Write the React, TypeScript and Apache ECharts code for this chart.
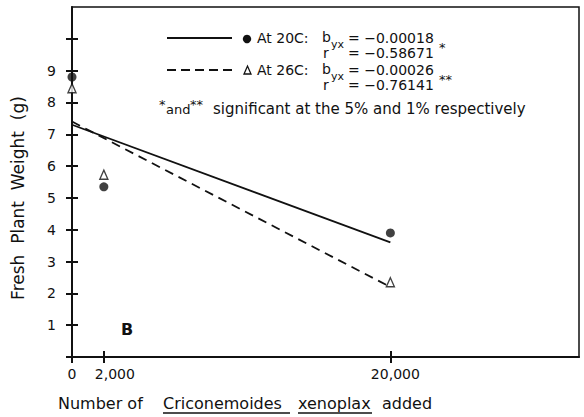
import React, { useEffect, useRef } from "react";
import * as echarts from "echarts";

// ---- data ----
const xValues = [0, 2000, 20000];
const weight20C = [8.8, 5.35, 3.9];
const weight26C = [8.45, 5.73, 2.35];
const fitX = [0, 20000];
const fit20C = [7.3, 3.6];
const fit26C = [7.4, 2.2];
const yTickValues = [0, 1, 2, 3, 4, 5, 6, 7, 8, 9, 10];
const yLabelValues = [1, 2, 3, 4, 5, 6, 7, 8, 9];
const xTickValues = [0, 2000, 20000];
const xTickLabels = ["0", "2,000", "20,000"];

const INK = "#111111";
const FONT = "DejaVu Sans";

export default function App() {
  const ref = useRef<HTMLDivElement>(null);
  useEffect(() => {
    document.body.style.margin = "0";
    if (!ref.current) return;
    const chart = echarts.init(ref.current, undefined, { renderer: "svg" });
    const txt = (text: string, x: number, y: number, size = 14, extra: any = {}) => ({
      type: "text",
      x,
      y,
      style: {
        text,
        fill: INK,
        fontFamily: FONT,
        fontSize: size,
        align: "left",
        verticalAlign: "middle",
        ...extra,
      },
    });
    const xLabelRich = {
      a: { padding: [0, 0, 0, 22], fontFamily: FONT, fontSize: 14, color: INK },
      b: { padding: [0, 0, 0, 10], fontFamily: FONT, fontSize: 14, color: INK },
      z: { fontFamily: FONT, fontSize: 14, color: INK },
    };
    const richKeys = ["z", "a", "b"];
    const tickStyle = { color: INK, width: 2 };
    const option: any = {
      animation: false,
      backgroundColor: "#ffffff",
      grid: {
        left: 72,
        right: 5,
        top: 7,
        bottom: 60,
        show: true,
        borderColor: INK,
        borderWidth: 1.5,
        backgroundColor: "transparent",
      },
      xAxis: [
        {
          type: "value",
          min: 0,
          max: 31850,
          position: "bottom",
          axisLine: { show: true, onZero: false, lineStyle: { color: INK, width: 2 } },
          axisTick: { show: true, customValues: xTickValues, length: 6, lineStyle: tickStyle },
          axisLabel: {
            customValues: xTickValues,
            margin: 10,
            formatter: (v: number) => {
              const i = xTickValues.indexOf(v);
              return i < 0 ? "" : `{${richKeys[i]}|${xTickLabels[i]}}`;
            },
            rich: xLabelRich,
          },
          splitLine: { show: false },
        },
        {
          type: "value",
          min: 0,
          max: 31850,
          position: "bottom",
          axisLine: { show: false, onZero: false },
          axisTick: { show: true, inside: true, customValues: xTickValues, length: 6, lineStyle: tickStyle },
          axisLabel: { show: false },
          splitLine: { show: false },
        },
      ],
      yAxis: [
        {
          type: "value",
          min: 0,
          max: 11,
          interval: 1,
          position: "left",
          axisLine: { show: true, onZero: false, lineStyle: { color: INK, width: 2 } },
          axisTick: { show: true, customValues: yTickValues, length: 6, lineStyle: tickStyle },
          axisLabel: {
            customValues: yLabelValues,
            margin: 16,
            fontFamily: FONT,
            fontSize: 14,
            color: INK,
          },
          splitLine: { show: false },
        },
        {
          type: "value",
          min: 0,
          max: 11,
          interval: 1,
          position: "left",
          axisLine: { show: false, onZero: false },
          axisTick: { show: true, inside: true, customValues: yTickValues, length: 6, lineStyle: tickStyle },
          axisLabel: { show: false },
          splitLine: { show: false },
        },
      ],
      series: [
        {
          type: "line",
          data: fitX.map((x, i) => [x, fit20C[i]]),
          symbol: "none",
          lineStyle: { color: INK, width: 1.8 },
        },
        {
          type: "line",
          data: fitX.map((x, i) => [x, fit26C[i]]),
          symbol: "none",
          lineStyle: { color: INK, width: 1.8, type: [9, 6] },
        },
        {
          type: "scatter",
          clip: false,
          data: xValues.map((x, i) => [x, weight20C[i]]),
          symbol: "circle",
          symbolSize: 9,
          itemStyle: { color: INK },
        },
        {
          type: "scatter",
          clip: false,
          data: xValues.map((x, i) => [x, weight26C[i]]),
          symbol: "triangle",
          symbolSize: [8, 9],
          itemStyle: { color: "#ffffff", borderColor: INK, borderWidth: 1.4 },
        },
      ],
      graphic: [
        // y-axis title
        {
          type: "text",
          x: 18,
          y: 198,
          rotation: Math.PI / 2,
          style: {
            text: "Fresh  Plant  Weight  (g)",
            fill: INK,
            fontFamily: FONT,
            fontSize: 17,
            align: "center",
            verticalAlign: "middle",
          },
        },
        // legend samples
        { type: "line", shape: { x1: 167, y1: 38, x2: 232, y2: 38 }, style: { stroke: INK, lineWidth: 1.8 } },
        { type: "circle", shape: { cx: 247, cy: 39, r: 4.2 }, style: { fill: INK } },
        {
          type: "line",
          shape: { x1: 167, y1: 70, x2: 232, y2: 70 },
          style: { stroke: INK, lineWidth: 1.8, lineDash: [9, 5] },
        },
        {
          type: "polygon",
          shape: { points: [[244, 74], [251, 74], [247.5, 66]] },
          style: { fill: "#fff", stroke: INK, lineWidth: 1.3 },
        },
        txt("At 20C:", 257, 38),
        txt("b", 322, 37),
        txt("yx", 331, 44, 11),
        txt("= −0.00018", 348, 38),
        txt("r", 323, 53),
        txt("= −0.58671", 348, 53),
        txt("*", 439, 47, 13),
        txt("At 26C:", 257, 70),
        txt("b", 322, 69),
        txt("yx", 331, 76, 11),
        txt("= −0.00026", 348, 70),
        txt("r", 323, 85),
        txt("= −0.76141", 348, 85),
        txt("**", 439, 79, 13),
        // footnote
        txt("*", 159, 104, 13),
        txt("and", 166, 109, 13),
        txt("**", 190, 104, 13),
        txt("significant at the 5% and 1% respectively", 213, 109, 15),
        // panel letter
        txt("B", 121, 329, 16, { fontWeight: "bold" }),
        // x-axis title with underlined genus/species
        txt("Number of", 58, 403, 16),
        txt("Criconemoides", 163, 403, 16),
        txt("xenoplax", 298, 403, 16),
        txt("added", 382, 403, 16),
        { type: "line", shape: { x1: 163, y1: 413, x2: 290, y2: 413 }, style: { stroke: INK, lineWidth: 1.5 } },
        { type: "line", shape: { x1: 298, y1: 413, x2: 372, y2: 413 }, style: { stroke: INK, lineWidth: 1.5 } },
      ],
    };
    chart.setOption(option);
    return () => chart.dispose();
  }, []);
  return <div ref={ref} style={{ width: 584, height: 417 }} />;
}
